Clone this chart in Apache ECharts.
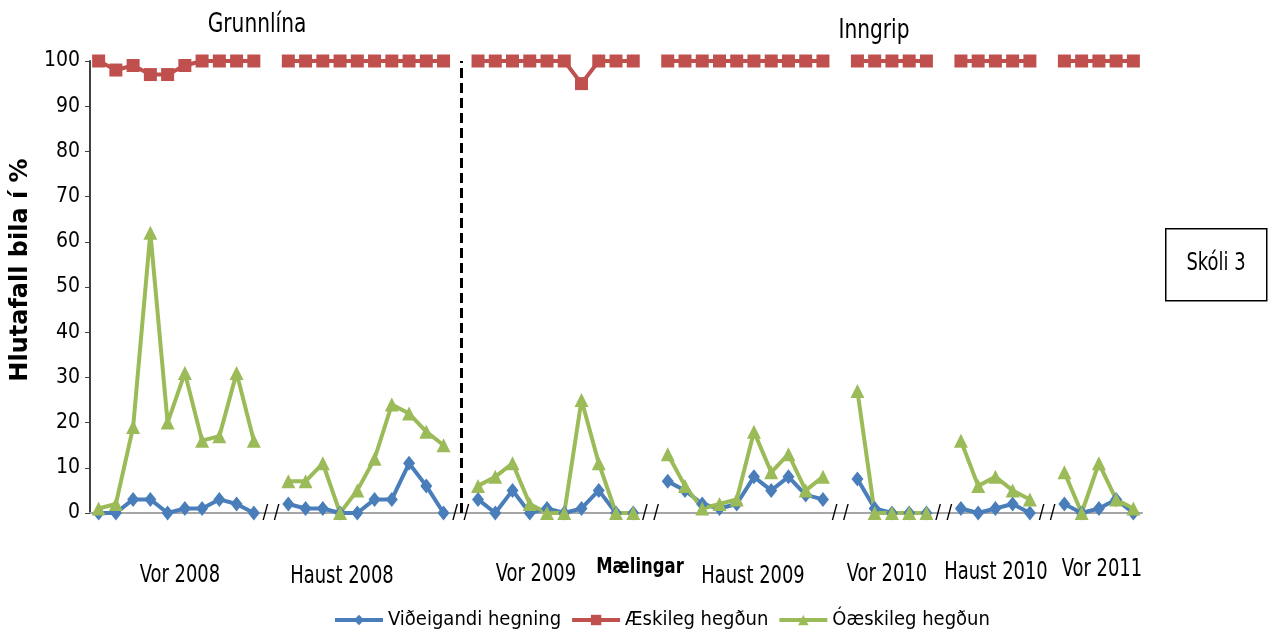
<!DOCTYPE html>
<html>
<head>
<meta charset="utf-8">
<script src="https://cdn.jsdelivr.net/npm/echarts@6/dist/echarts.min.js"></script>
<style>
  html, body { margin: 0; padding: 0; background: #fff; }
  #chart { width: 1269px; height: 641px; }
</style>
</head>
<body>
<div id="chart"></div>
<script>
// tímabil (ein lína rofin á milli þeirra)
const periods = ['Vor 2008', 'Haust 2008', 'Vor 2009', 'Haust 2009', 'Vor 2010', 'Haust 2010', 'Vor 2011']
const yTicks = [0, 10, 20, 30, 40, 50, 60, 70, 80, 90, 100]

const videigandi = [
  [0, 0, 3, 3, 0, 1, 1, 3, 2, 0],
  [2, 1, 1, 0, 0, 3, 3, 11, 6, 0],
  [3, 0, 5, 0, 1, 0, 1, 5, 0, 0],
  [7, 5, 2, 1, 2, 8, 5, 8, 4, 3],
  [7.5, 1, 0, 0, 0],
  [1, 0, 1, 2, 0],
  [2, 0, 1, 3, 0]
]
const aeskileg = [
  [100, 98, 99, 97, 97, 99, 100, 100, 100, 100],
  [100, 100, 100, 100, 100, 100, 100, 100, 100, 100],
  [100, 100, 100, 100, 100, 100, 95, 100, 100, 100],
  [100, 100, 100, 100, 100, 100, 100, 100, 100, 100],
  [100, 100, 100, 100, 100],
  [100, 100, 100, 100, 100],
  [100, 100, 100, 100, 100]
]
const oaeskileg = [
  [1, 2, 19, 62, 20, 31, 16, 17, 31, 16],
  [7, 7, 11, 0, 5, 12, 24, 22, 18, 15],
  [6, 8, 11, 2, 0, 0, 25, 11, 0, 0],
  [13, 6, 1, 2, 3, 18, 9, 13, 5, 8],
  [27, 0, 0, 0, 0],
  [16, 6, 8, 5, 3],
  [9, 0, 11, 3, 1]
]

const FONT = "'DejaVu Sans Condensed', sans-serif"
const NARROW = 0.83 // mjórra letur eins og í Excel myndinni

// flokkar: mælingar hvers tímabils og eitt autt bil á milli
const categories = []
periods.forEach((p, i) => {
  if (i > 0) categories.push('gap' + i)
  videigandi[i].forEach((v, j) => categories.push(p + ' ' + (j + 1)))
})
function flat(rows) {
  const out = []
  rows.forEach((r, i) => {
    if (i > 0) out.push(null)
    r.forEach(v => out.push(v))
  })
  return out
}
// skil grunnlínu og inngrips = bilið á eftir Haust 2008
const splitIndex = videigandi[0].length + 1 + videigandi[1].length

function txt(text, x, y, size, extra) {
  return {
    type: 'text', x: x, y: y, scaleX: NARROW,
    style: Object.assign({ text: text, font: size + 'px ' + FONT, fill: '#000', align: 'center', verticalAlign: 'middle' }, extra || {})
  }
}

const chart = echarts.init(document.getElementById('chart'))
const option = {
  animation: false,
  grid: { left: 90, right: 127, top: 61, bottom: 128 },
  legend: {
    bottom: 6,
    left: 328,
    itemWidth: 48,
    itemHeight: 13,
    itemGap: 9,
    lineStyle: { width: 4 },
    textStyle: { fontFamily: FONT, fontSize: 20, color: '#000' },
    data: ['Viðeigandi hegning', 'Æskileg hegðun', 'Óæskileg hegðun']
  },
  xAxis: {
    type: 'category',
    data: categories,
    boundaryGap: true,
    axisLine: { lineStyle: { color: '#a6a6a6', width: 2 } },
    axisTick: { interval: 0, length: 6, lineStyle: { color: '#a6a6a6' } },
    axisLabel: {
      interval: 0,
      margin: -9,
      fontFamily: FONT,
      fontSize: 19,
      color: '#000',
      formatter: v => (v.indexOf('gap') === 0 ? '/ /' : '')
    }
  },
  yAxis: {
    type: 'value',
    min: 0,
    max: 100,
    interval: 10,
    axisLine: { show: true, lineStyle: { color: '#404040', width: 2 } },
    axisTick: { show: true, length: 5, lineStyle: { color: '#404040' } },
    splitLine: { show: false },
    axisLabel: {
      fontFamily: FONT,
      fontSize: 21,
      color: '#000',
      margin: 10,
      formatter: v => (yTicks.indexOf(v) >= 0 ? String(v) : '')
    }
  },
  series: [
    {
      name: 'Viðeigandi hegning',
      type: 'line',
      data: flat(videigandi),
      symbol: 'diamond',
      symbolSize: [12, 15],
      lineStyle: { color: '#4a7ebb', width: 4 },
      itemStyle: { color: '#4a7ebb' },
      connectNulls: false
    },
    {
      name: 'Æskileg hegðun',
      type: 'line',
      data: flat(aeskileg),
      symbol: 'rect',
      symbolSize: 13,
      lineStyle: { color: '#c0504d', width: 4 },
      itemStyle: { color: '#c0504d' },
      connectNulls: false,
      markLine: {
        silent: true,
        symbol: 'none',
        label: { show: false },
        lineStyle: { color: '#000', type: [10, 5], width: 3 },
        data: [{ xAxis: splitIndex }]
      }
    },
    {
      name: 'Óæskileg hegðun',
      type: 'line',
      data: flat(oaeskileg),
      symbol: 'triangle',
      symbolSize: 14,
      lineStyle: { color: '#9bbb59', width: 4 },
      itemStyle: { color: '#9bbb59' },
      connectNulls: false
    }
  ]
}

// textar: fyrirsagnir, ásaheiti, tímabil og kassi
const labelPos = [[180, 576], [342, 577], [536, 575], [753, 577], [887, 575], [996, 573], [1102, 570]]
const graphics = [
  txt('Grunnlína', 257, 25, 27),
  txt('Inngrip', 874, 31, 27),
  {
    type: 'text', x: 21, y: 270, rotation: Math.PI / 2,
    style: { text: 'Hlutafall bila í %', font: 'bold 24px DejaVu Sans, sans-serif', fill: '#000', align: 'center', verticalAlign: 'middle' }
  },
  { type: 'rect', left: 1165, top: 228, shape: { width: 101, height: 72 }, style: { fill: '#fff', stroke: '#000', lineWidth: 1.5 } },
  txt('Skóli 3', 1216, 264, 24),
  txt('Mælingar', 640, 567, 22, { font: 'bold 22px ' + FONT })
]
periods.forEach((p, i) => graphics.push(txt(p, labelPos[i][0], labelPos[i][1], 24)))
option.graphic = graphics

chart.setOption(option)
</script>
</body>
</html>
